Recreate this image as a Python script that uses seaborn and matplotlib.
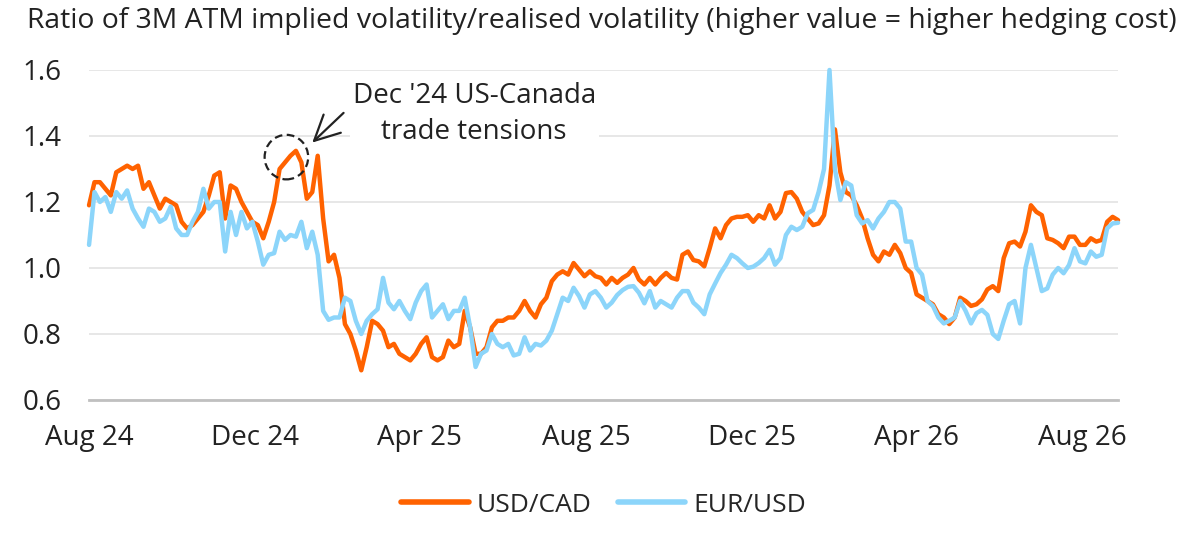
import numpy as np
import pandas as pd
import seaborn as sns
import matplotlib.pyplot as plt
import matplotlib.dates as mdates
from matplotlib.patches import Ellipse

# 4-day sampled readings, starting 1 Aug 2024
start_date = '2024-08-01'

usdcad = [
    1.19, 1.26, 1.26, 1.24, 1.22, 1.29, 1.30, 1.31, 1.30, 1.31,
    1.24, 1.26, 1.22, 1.18, 1.21, 1.20, 1.19, 1.14, 1.12, 1.13,
    1.15, 1.17, 1.22, 1.28, 1.29, 1.15, 1.25, 1.24, 1.20, 1.17,
    1.14, 1.13, 1.09, 1.14, 1.20, 1.30, 1.32, 1.34, 1.355, 1.32,
    1.21, 1.23, 1.34, 1.15, 1.02, 1.04, 0.97, 0.83, 0.80, 0.75,
    0.69, 0.76, 0.84, 0.83, 0.81, 0.76, 0.77, 0.74, 0.73, 0.72,
    0.74, 0.77, 0.79, 0.73, 0.72, 0.73, 0.78, 0.76, 0.77, 0.87,
    0.82, 0.74, 0.74, 0.76, 0.82, 0.84, 0.84, 0.85, 0.85, 0.87,
    0.90, 0.87, 0.85, 0.89, 0.91, 0.96, 0.98, 0.99, 0.98, 1.015,
    0.995, 0.975, 0.99, 0.975, 0.97, 0.95, 0.97, 0.955, 0.97, 0.98,
    1.00, 0.965, 0.95, 0.97, 0.95, 0.97, 0.985, 0.97, 0.965, 1.04,
    1.05, 1.024, 1.02, 1.005, 1.06, 1.12, 1.09, 1.13, 1.15, 1.155,
    1.155, 1.16, 1.14, 1.16, 1.15, 1.19, 1.15, 1.17, 1.227, 1.23,
    1.21, 1.17, 1.15, 1.13, 1.135, 1.16, 1.25, 1.42, 1.29, 1.23,
    1.22, 1.19, 1.15, 1.09, 1.04, 1.02, 1.05, 1.04, 1.07, 1.045,
    1.00, 0.985, 0.92, 0.91, 0.90, 0.89, 0.86, 0.85, 0.83, 0.85,
    0.91, 0.90, 0.885, 0.89, 0.905, 0.935, 0.945, 0.93, 1.03, 1.075,
    1.08, 1.065, 1.11, 1.19, 1.17, 1.16, 1.09, 1.085, 1.075, 1.06,
    1.095, 1.095, 1.07, 1.07, 1.09, 1.08, 1.085, 1.14, 1.155, 1.145,
]

eurusd = [
    1.07, 1.23, 1.20, 1.215, 1.17, 1.23, 1.21, 1.235, 1.18, 1.15,
    1.125, 1.18, 1.17, 1.14, 1.15, 1.186, 1.12, 1.10, 1.10, 1.14,
    1.17, 1.24, 1.18, 1.20, 1.20, 1.05, 1.17, 1.10, 1.17, 1.12,
    1.14, 1.08, 1.01, 1.04, 1.045, 1.11, 1.085, 1.10, 1.095, 1.14,
    1.06, 1.11, 1.04, 0.87, 0.843, 0.85, 0.85, 0.91, 0.90, 0.84,
    0.80, 0.84, 0.86, 0.875, 0.97, 0.895, 0.875, 0.90, 0.87, 0.845,
    0.895, 0.93, 0.95, 0.85, 0.87, 0.89, 0.845, 0.87, 0.87, 0.91,
    0.82, 0.70, 0.74, 0.75, 0.80, 0.77, 0.76, 0.77, 0.735, 0.74,
    0.79, 0.75, 0.77, 0.765, 0.78, 0.81, 0.86, 0.91, 0.90, 0.94,
    0.915, 0.88, 0.92, 0.93, 0.91, 0.88, 0.895, 0.918, 0.933, 0.943,
    0.945, 0.925, 0.893, 0.93, 0.88, 0.90, 0.89, 0.88, 0.91, 0.93,
    0.93, 0.895, 0.88, 0.86, 0.92, 0.953, 0.985, 1.01, 1.04, 1.03,
    1.014, 1.00, 1.004, 1.015, 1.03, 1.055, 1.01, 1.03, 1.10, 1.125,
    1.115, 1.125, 1.166, 1.176, 1.23, 1.30, 1.60, 1.30, 1.206, 1.26,
    1.25, 1.16, 1.135, 1.145, 1.12, 1.15, 1.17, 1.20, 1.20, 1.18,
    1.08, 1.08, 1.00, 0.98, 0.90, 0.885, 0.85, 0.832, 0.84, 0.85,
    0.90, 0.87, 0.832, 0.863, 0.873, 0.858, 0.80, 0.785, 0.84, 0.89,
    0.90, 0.832, 1.00, 1.07, 1.00, 0.93, 0.938, 0.98, 1.00, 0.984,
    1.009, 1.06, 1.02, 1.014, 1.05, 1.034, 1.04, 1.12, 1.135, 1.137,
]

series_names = ['USD/CAD', 'EUR/USD']
series_colors = ['#FF6200', '#8CD5FA']

dates = pd.date_range(start_date, periods=len(usdcad), freq='4D')
df = pd.DataFrame({'date': dates, 'USD/CAD': usdcad, 'EUR/USD': eurusd})
long_df = df.melt(id_vars='date', var_name='series', value_name='value')

sns.set_style('white')
plt.rcParams['font.family'] = ['Open Sans', 'DejaVu Sans']
FS = 20

fig = plt.figure(figsize=(12, 5.55), dpi=100)
ax = fig.add_axes([0.0742, 0.2793, 0.8575, 0.5946])

sns.lineplot(data=long_df, x='date', y='value', hue='series',
             hue_order=series_names, palette=series_colors,
             linewidth=3.2, ax=ax, legend=False)
for line in ax.get_lines():
    line.set_clip_on(False)
    line.set_solid_joinstyle('round')

ax.set_ylim(0.6, 1.6)
ax.set_yticks([0.6, 0.8, 1.0, 1.2, 1.4, 1.6])
ax.set_yticklabels(['0.6', '0.8', '1.0', '1.2', '1.4', '1.6'])
ax.set_xlim(dates[0], dates[-1])
ax.xaxis.set_major_locator(mdates.MonthLocator(bymonth=[4, 8, 12]))
ax.xaxis.set_major_formatter(mdates.DateFormatter('%b %y'))
ax.set_xlabel('')
ax.set_ylabel('')

ax.grid(axis='y', color='#e3e3e3', linewidth=1.2)
ax.set_axisbelow(True)
for s in ['top', 'right', 'left']:
    ax.spines[s].set_visible(False)
ax.spines['bottom'].set_color('#c0c0c0')
ax.spines['bottom'].set_linewidth(2)
ax.tick_params(axis='x', colors='#c0c0c0', length=8, width=1.2, pad=9,
               labelcolor='#222222', labelsize=FS)
ax.tick_params(axis='y', length=0, pad=20, labelcolor='#222222', labelsize=FS)

# annotation: dashed circle around the Dec '24 peak and arrow to the label
ax.add_patch(Ellipse((pd.Timestamp('2024-12-24'), 1.336), width=32, height=0.135,
                     fill=False, edgecolor='#222222', linestyle=(0, (3.5, 2)),
                     linewidth=1.6, zorder=5))
ax.annotate('', xy=(pd.Timestamp('2025-01-12'), 1.38),
            xytext=(pd.Timestamp('2025-02-04'), 1.47),
            arrowprops=dict(arrowstyle='->,head_length=0.6,head_width=0.3',
                            color='#222222', lw=1.6, mutation_scale=30,
                            shrinkA=0, shrinkB=0))
ax.text(pd.Timestamp('2025-05-11'), 1.467, "Dec '24 US-Canada\ntrade tensions",
        ha='center', va='center', fontsize=FS, color='#222222', linespacing=1.35,
        bbox=dict(facecolor='white', edgecolor='none', pad=2), zorder=4)

fig.text(0.0225, 0.963,
         'Ratio of 3M ATM implied volatility/realised volatility (higher value = higher hedging cost)',
         fontsize=20.4, color='#222222', ha='left', va='center')

handles = [plt.Line2D([], [], color=c, linewidth=4) for c in series_colors]
fig.legend(handles, series_names, loc='center', bbox_to_anchor=(0.503, 0.09),
           ncol=2, frameon=False, fontsize=19, handlelength=2.55,
           handletextpad=0.3, columnspacing=1.0)

fig.savefig('out.png', dpi=100)
